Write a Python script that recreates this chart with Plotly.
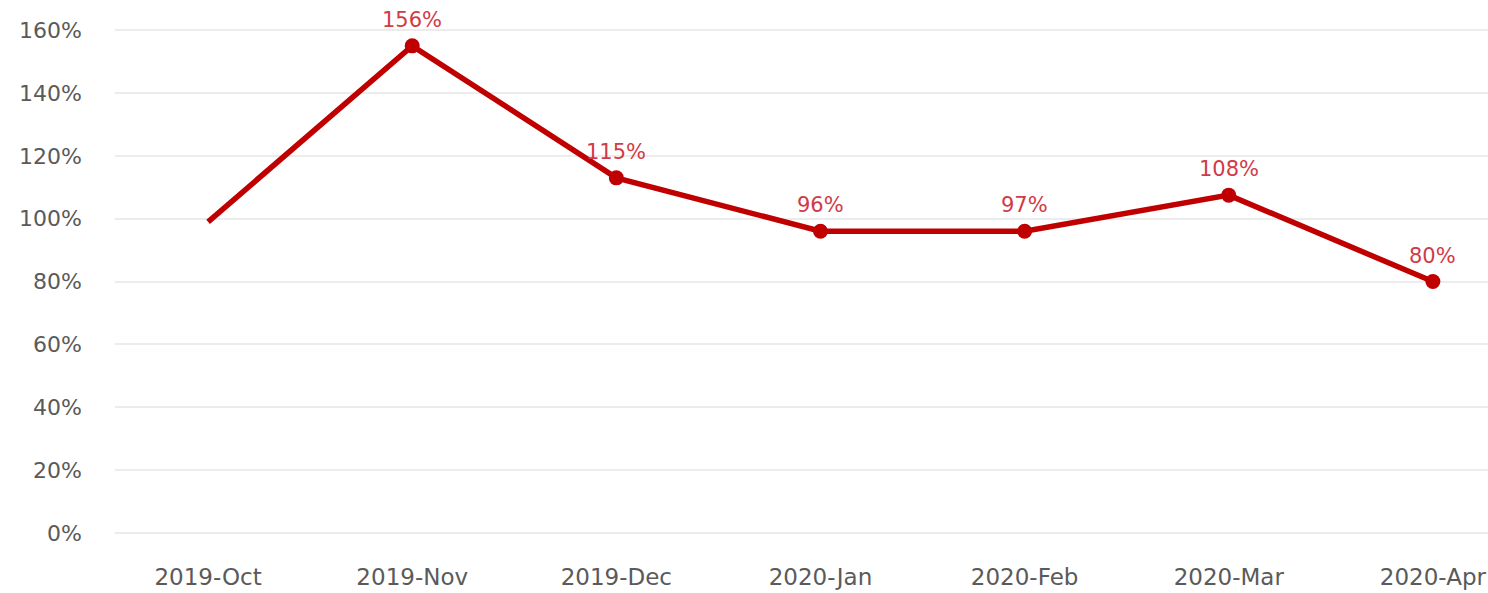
import plotly.graph_objects as go

months = ["2019-Oct", "2019-Nov", "2019-Dec", "2020-Jan", "2020-Feb", "2020-Mar", "2020-Apr"]
values = [99, 155, 113, 96, 96, 107.5, 80]
labels = ["", "156%", "115%", "96%", "97%", "108%", "80%"]
marker_sizes = [0, 15, 15, 15, 15, 15, 15]
y_ticks = [0, 20, 40, 60, 80, 100, 120, 140, 160]

LINE = "#c00000"
LABEL = "#d23a46"
FONT = "DejaVu Sans"
GREY = "#5a5a5a"

fig = go.Figure()
fig.add_trace(go.Scatter(
    x=months, y=values,
    mode="lines+markers",
    line=dict(color=LINE, width=5.5),
    marker=dict(color=LINE, size=marker_sizes, opacity=1, line=dict(width=0)),
    cliponaxis=False,
    showlegend=False,
))

for m, v, t in zip(months, values, labels):
    if t:
        fig.add_annotation(
            x=m, y=v, text=t, showarrow=False,
            yanchor="middle", yshift=26,
            font=dict(color=LABEL, size=21, family=FONT),
        )

fig.update_layout(
    width=1488, height=593,
    margin=dict(l=115, r=0, t=10, b=50),
    paper_bgcolor="white", plot_bgcolor="white",
    font=dict(family=FONT, color=GREY, size=21),
    xaxis=dict(
        type="category", range=[-0.456, 6.27],
        showgrid=False, zeroline=False, showline=False,
        ticks="", ticklabelstandoff=18,
        tickfont=dict(size=23, color=GREY, family=FONT),
    ),
    yaxis=dict(
        range=[-3.18, 166.4],
        tickvals=y_ticks, ticktext=[f"{v}%" for v in y_ticks],
        showgrid=True, gridcolor="#ececec", gridwidth=1.5,
        zeroline=False, showline=False, ticks="",
        ticklabelstandoff=32,
        tickfont=dict(size=22, color=GREY, family=FONT),
    ),
)

fig.write_html("out.html", config={"displayModeBar": False})

with open("out.html", "r", encoding="utf-8") as f:
    html = f.read()
html = html.replace("<head>", "<head><style>html,body{margin:0;padding:0;overflow:hidden}</style>", 1)
with open("out.html", "w", encoding="utf-8") as f:
    f.write(html)
